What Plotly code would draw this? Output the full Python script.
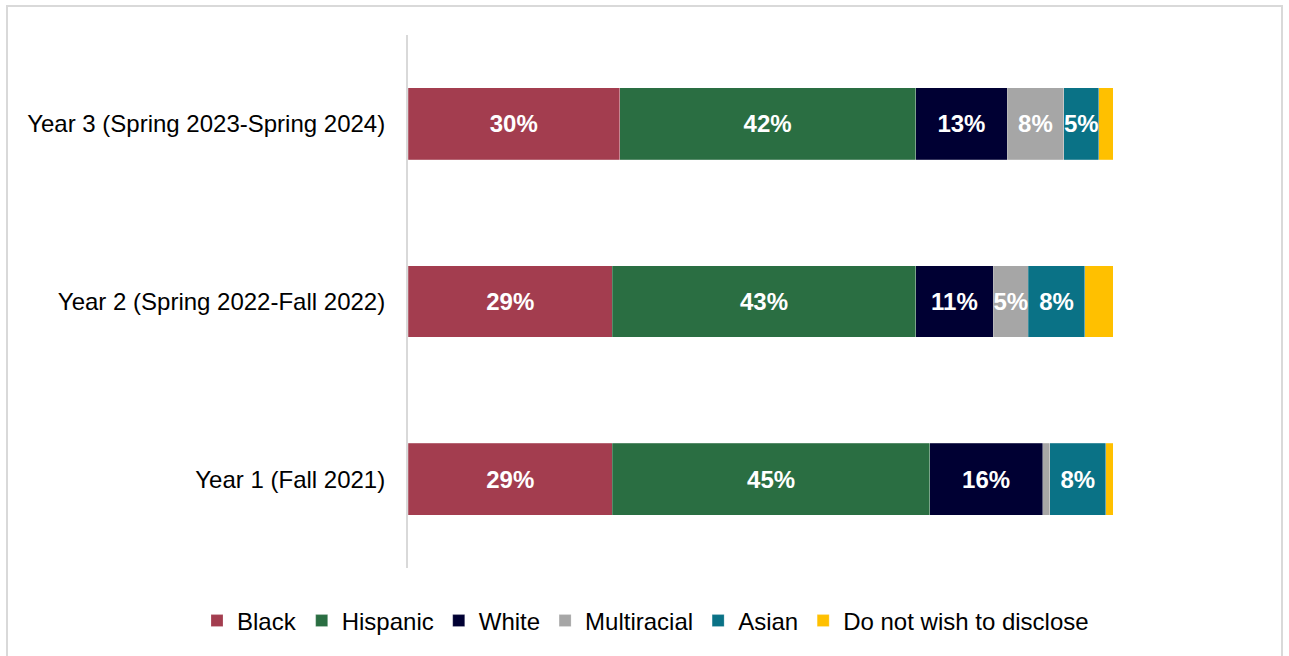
import plotly.graph_objects as go

# Survey years (bottom to top on the chart)
years = ["Year 1 (Fall 2021)", "Year 2 (Spring 2022-Fall 2022)", "Year 3 (Spring 2023-Spring 2024)"]

# Share of respondents by race/ethnicity (%), in the same year order
black = [29, 29, 30]
hispanic = [45, 43, 42]
white = [16, 11, 13]
multiracial = [1, 5, 8]
asian = [8, 8, 5]
no_disclose = [1, 4, 2]

groups = ["Black", "Hispanic", "White", "Multiracial", "Asian", "Do not wish to disclose"]
colors = ["#A33D4F", "#2A6E42", "#000033", "#A6A6A6", "#0A7286", "#FFC000"]
series = [black, hispanic, white, multiracial, asian, no_disclose]
show_labels = [True, True, True, True, True, False]

FONT = "Liberation Sans, Arial, sans-serif"

fig = go.Figure()
for name, vals, col, lab in zip(groups, series, colors, show_labels):
    fig.add_trace(go.Bar(
        y=years, x=vals, name=name, orientation="h",
        marker=dict(color=col, line=dict(color="rgba(255,255,255,0.35)", width=0.6)),
        text=[f"{v}%" if (lab and v >= 5) else "" for v in vals],
        textposition="inside", insidetextanchor="middle", textangle=0,
        textfont=dict(color="white", size=24, family=FONT, weight="bold"),
        hoverinfo="skip",
    ))

# Plot area placement in pixels
W, H = 1289, 656
L, R, T, B = 408, 1113, 35, 568
pw, ph = R - L, B - T

def px_x(x):
    return (x - L) / pw

def px_y(y):
    return (B - y) / ph

fig.update_layout(
    width=W, height=H,
    margin=dict(l=L, r=W - R, t=T, b=H - B, autoexpand=False),
    barmode="stack", bargap=0.595,
    paper_bgcolor="white", plot_bgcolor="white",
    font=dict(family=FONT, size=24, color="#000000"),
    uniformtext=dict(minsize=24, mode="show"),
    showlegend=True,
    legend=dict(orientation="h", x=px_x(197), xanchor="left", y=px_y(621), yanchor="middle",
                font=dict(size=24, color="#000000"), traceorder="normal",
                itemwidth=30, bgcolor="rgba(0,0,0,0)"),
    xaxis=dict(range=[0, 100], visible=False, fixedrange=True),
    yaxis=dict(showline=True, linecolor="#D9D9D9", linewidth=2, showgrid=False,
               ticks="", ticklabelstandoff=16, tickfont=dict(size=24, color="#000000"),
               fixedrange=True),
    shapes=[dict(type="rect", xref="paper", yref="paper",
                 x0=px_x(7), x1=px_x(1282), y0=px_y(665), y1=px_y(6),
                 line=dict(color="#D9D9D9", width=2), fillcolor="rgba(0,0,0,0)", layer="below")],
)

fig.write_html("out.html", config={"displayModeBar": False})
